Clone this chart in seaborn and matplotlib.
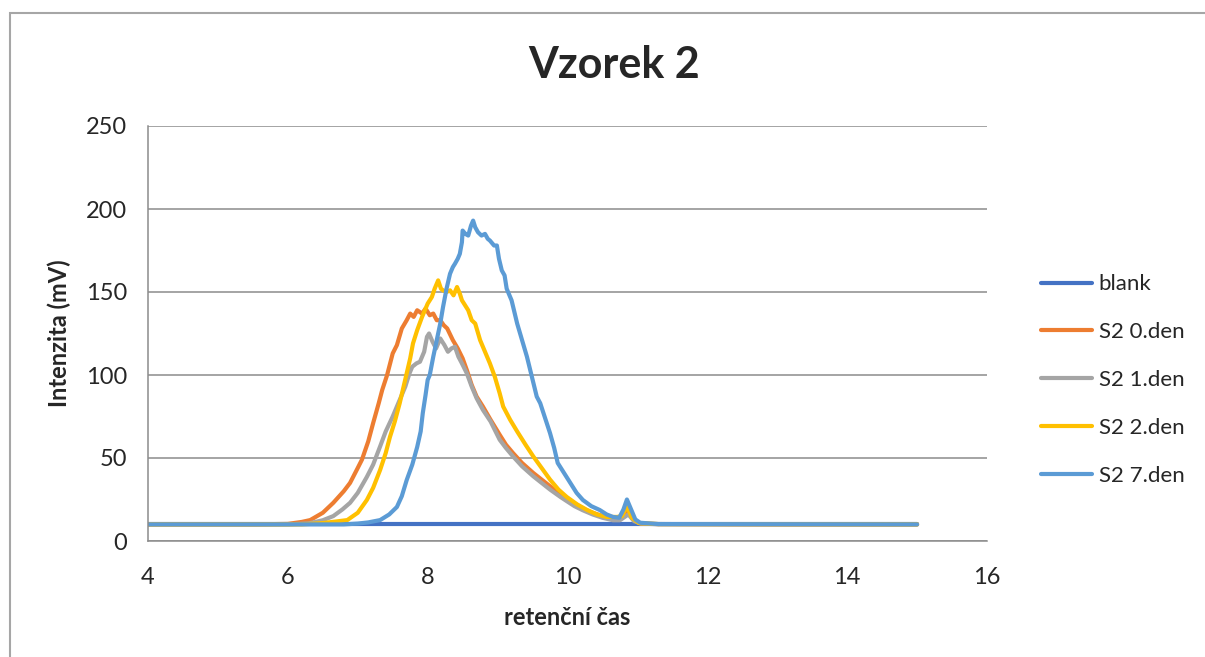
import numpy as np
import pandas as pd
import matplotlib
matplotlib.use("Agg")
import matplotlib.pyplot as plt
from matplotlib.patches import Rectangle
import seaborn as sns

# values (retention time, intensity in mV)
blank_x = [4.0, 6.0, 8.0, 10.0, 12.0, 15.0]
blank_y = [10, 10, 10, 10, 10, 10]

s0_x = [4.0, 5.5, 6.0, 6.2, 6.32, 6.5, 6.65, 6.8, 6.89, 7.0, 7.06, 7.15, 7.22, 7.3, 7.35, 7.42,
        7.5, 7.56, 7.63, 7.7, 7.75, 7.8, 7.85, 7.92, 7.97, 8.03, 8.08, 8.13, 8.18, 8.23, 8.28,
        8.36, 8.43, 8.5, 8.56, 8.63, 8.7, 8.79, 8.9, 9.03, 9.12, 9.22, 9.35, 9.51, 9.63, 9.75,
        9.9, 10.08, 10.22, 10.36, 10.5, 10.65, 10.75, 10.87, 10.95, 11.05, 11.3, 13.0, 15.0]
s0_y = [10, 10, 10.3, 11.5, 12.6, 17, 23, 30, 35, 44, 49, 60, 71, 83, 91, 100,
        113, 118, 128, 133, 137, 135, 139, 137, 140, 136, 137, 133, 133, 130, 128,
        121, 116, 110, 103, 94, 87, 81, 73, 64, 58, 53, 47, 41, 37, 33,
        28, 23, 19.5, 17, 15, 13.5, 13.5, 17.5, 12.5, 10.5, 10.2, 10, 10]

s1_x = [4.0, 6.0, 6.3, 6.5, 6.65, 6.78, 6.89, 7.0, 7.13, 7.22, 7.32, 7.4, 7.5, 7.6, 7.68, 7.74,
        7.78, 7.84, 7.89, 7.95, 7.99, 8.02, 8.07, 8.12, 8.18, 8.24, 8.29, 8.34, 8.39, 8.44, 8.49,
        8.56, 8.63, 8.7, 8.79, 8.9, 9.03, 9.12, 9.22, 9.35, 9.51, 9.63, 9.75, 9.9, 9.99, 10.1,
        10.22, 10.36, 10.5, 10.65, 10.75, 10.87, 10.95, 11.05, 11.3, 15.0]
s1_y = [10, 10, 10.6, 12.5, 15, 19, 23, 29, 38.6, 46, 57, 66, 75, 85, 93, 101,
        105, 107, 108, 114, 123, 125, 120, 116, 122, 118, 114, 116, 117, 111, 107,
        101, 93, 86, 79, 72, 61, 56, 51, 45, 39, 35, 31, 26.5, 24, 21,
        18.5, 16, 14, 12.5, 12.5, 16, 12, 10.5, 10.1, 10]

s2_x = [4.0, 6.2, 6.5, 6.7, 6.85, 7.0, 7.13, 7.22, 7.32, 7.4, 7.46, 7.53, 7.6, 7.65, 7.7, 7.75,
        7.79, 7.85, 7.92, 8.0, 8.06, 8.1, 8.15, 8.19, 8.22, 8.27, 8.32, 8.37, 8.42, 8.46, 8.49,
        8.58, 8.63, 8.68, 8.75, 8.82, 8.89, 8.96, 9.03, 9.08, 9.18, 9.28, 9.4, 9.51, 9.63, 9.75,
        9.87, 9.99, 10.14, 10.28, 10.42, 10.56, 10.71, 10.78, 10.85, 10.92, 11.02, 11.3, 15.0]
s2_y = [10, 10, 10.8, 11.8, 12.6, 17, 24.7, 32, 42.8, 53, 62.6, 72, 83, 92, 101, 110,
        119, 127, 135, 143, 147, 152, 157, 152, 151, 150, 151, 148, 153, 149, 145,
        139, 133, 131, 121, 114, 107, 99, 89, 81, 73, 66, 58, 51, 44, 37,
        31, 26.5, 22, 18.7, 16, 14.5, 14.5, 15, 21, 14, 10.8, 10.2, 10]

s7_x = [4.0, 6.8, 7.0, 7.15, 7.32, 7.45, 7.56, 7.63, 7.7, 7.78, 7.85, 7.9, 7.93, 7.97, 8.0, 8.03,
        8.08, 8.13, 8.18, 8.22, 8.27, 8.32, 8.36, 8.39, 8.43, 8.46, 8.49, 8.5, 8.54, 8.58, 8.62,
        8.65, 8.68, 8.72, 8.77, 8.82, 8.86, 8.89, 8.95, 8.99, 9.02, 9.06, 9.1, 9.13, 9.2, 9.28,
        9.35, 9.42, 9.49, 9.56, 9.61, 9.68, 9.75, 9.81, 9.86, 9.95, 10.04, 10.13, 10.22, 10.34,
        10.46, 10.56, 10.65, 10.74, 10.8, 10.85, 10.9, 10.97, 11.04, 11.3, 15.0]
s7_y = [10, 10, 10.5, 11.2, 12.6, 16, 20.5, 27, 36.7, 46, 56.6, 66, 77, 88, 97, 100,
        111, 121, 131, 141, 152, 161, 165, 167, 170, 173, 180, 187, 185, 184, 190,
        193, 189, 186, 184, 185, 182, 181, 178, 178, 170, 163, 160, 152, 145, 131,
        121, 111, 99, 87, 83, 74, 65, 56, 47, 41, 35, 29, 24.7, 21,
        18.7, 16, 14.5, 14, 19, 25, 20, 13, 11, 10.2, 10]

series_names = ["blank", "S2 0.den", "S2 1.den", "S2 2.den", "S2 7.den"]
series_x = [blank_x, s0_x, s1_x, s2_x, s7_x]
series_y = [blank_y, s0_y, s1_y, s2_y, s7_y]
colors = ["#4472C4", "#ED7D31", "#A5A5A5", "#FFC000", "#5B9BD5"]

frames = []
for name, xs, ys in zip(series_names, series_x, series_y):
    frames.append(pd.DataFrame({"cas": xs, "intenzita": ys, "serie": name}))
df = pd.concat(frames, ignore_index=True)

sns.set_style("white")
plt.rcParams['font.family'] = ['Lato', 'DejaVu Sans']

fig = plt.figure(figsize=(12.05, 6.57), dpi=100)
ax = fig.add_axes([148 / 1205, 1 - 541 / 657, (987 - 148) / 1205, (541 - 126) / 657])

sns.lineplot(data=df, x="cas", y="intenzita", hue="serie", hue_order=series_names,
             palette=dict(zip(series_names, colors)), sort=False, estimator=None,
             linewidth=3.0, ax=ax)

ax.set_xlim(4, 16)
ax.set_ylim(0, 250)
ax.set_xticks(np.arange(4, 17, 2))
ax.set_yticks(np.arange(0, 251, 50))
ax.yaxis.grid(True, color="#8c8c8c", linewidth=1.1)
ax.xaxis.grid(False)
ax.set_axisbelow(True)
for side in ["top", "right"]:
    ax.spines[side].set_visible(False)
for side in ["left", "bottom"]:
    ax.spines[side].set_color("#8c8c8c")
    ax.spines[side].set_linewidth(1.1)
ax.tick_params(axis="both", direction="out", length=7, width=1.1, color="#8c8c8c",
               labelsize=17, pad=8)
ax.tick_params(axis="x", pad=12)

ax.set_xlabel("retenční čas", fontsize=17, fontweight="bold", labelpad=13)
ax.set_ylabel("Intenzita (mV)", fontsize=17, fontweight="bold", labelpad=11)
fig.text(614 / 1205, 1 - 65 / 657, "Vzorek 2", fontsize=31, fontweight="bold",
         ha="center", va="center")

handles, labels = ax.get_legend_handles_labels()
ax.legend(handles, labels, loc="center left", bbox_to_anchor=(1032 / 1205, 1 - 380 / 657),
          bbox_transform=fig.transFigure, frameon=False, fontsize=16, handlelength=2.3,
          handletextpad=0.3, labelspacing=1.25, borderaxespad=0)

# chart area border like in the spreadsheet export
fig.add_artist(Rectangle((10 / 1205, -0.2), 1.2, 1.2 - 13 / 657, transform=fig.transFigure,
                         fill=False, edgecolor="#a6a6a6", linewidth=1.5))

fig.savefig("out.png", dpi=100)
